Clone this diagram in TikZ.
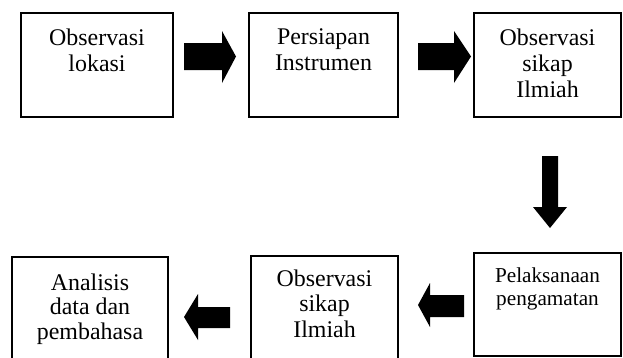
\documentclass[tikz,border=0pt]{standalone}
\usepackage{fontspec}
\setmainfont{Liberation Serif}
\tikzset{
  box/.style={draw=black, line width=1.3bp, rectangle, inner sep=0pt},
  txt/.style={anchor=north, align=center, inner sep=0pt, font=\fontsize{24}{26}\selectfont},
  txtsmall/.style={anchor=north, align=center, inner sep=0pt, font=\fontsize{21.3}{23}\selectfont},
  fatarrow/.style={fill=black, draw=none}
}
\begin{document}
\begin{tikzpicture}[x=1bp, y=-1bp]
\useasboundingbox (0,0) rectangle (623,357);
\clip (0,0) rectangle (623,357);
% boxes
\node[box, minimum width=152bp, minimum height=104bp] (b1) at (97,65) {};
\node[box, minimum width=149bp, minimum height=104bp] (b2) at (323.5,65) {};
\node[box, minimum width=147bp, minimum height=104bp] (b3) at (547.5,65) {};
\node[box, minimum width=147bp, minimum height=103bp] (b6) at (547.5,304.5) {};
\node[box, minimum width=147bp, minimum height=114bp] (b5) at (324.5,313) {};
\node[box, minimum width=156bp, minimum height=113bp] (b4) at (90,313.5) {};
% texts
\node[txt] (t1) at (97,28.6) {Observasi\\lokasi};
\node[txt] (t2) at (323.5,28.6) {Persiapan\\Instrumen};
\node[txt] (t3) at (547.5,28.6) {Observasi\\sikap\\Ilmiah};
\node[txtsmall] (t6) at (547.5,267.5) {Pelaksanaan\\pengamatan};
\node[txt, font=\fontsize{24}{25.5}\selectfont] (t5) at (324.5,269.6) {Observasi\\sikap\\Ilmiah};
\node[txt, font=\fontsize{24}{24.5}\selectfont] (t4) at (90,273.6) {Analisis\\data dan\\pembahasa};
% block arrows
\fill[fatarrow] (184,43) -- (222,43) -- (222,31) -- (236,56.5) -- (222,83) -- (222,70) -- (184,70) -- cycle;
\fill[fatarrow] (418,43) -- (454,43) -- (454,31) -- (471,56.5) -- (454,83) -- (454,70) -- (418,70) -- cycle;
\fill[fatarrow] (542,156) -- (558,156) -- (558,207) -- (567,207) -- (550,228) -- (533,207) -- (542,207) -- cycle;
\fill[fatarrow] (464,295) -- (430,295) -- (430,283) -- (418,305) -- (430,327) -- (430,317) -- (464,317) -- cycle;
\fill[fatarrow] (230,307) -- (198,307) -- (198,294) -- (184,317) -- (198,340) -- (198,328) -- (230,328) -- cycle;
\end{tikzpicture}
\end{document}
